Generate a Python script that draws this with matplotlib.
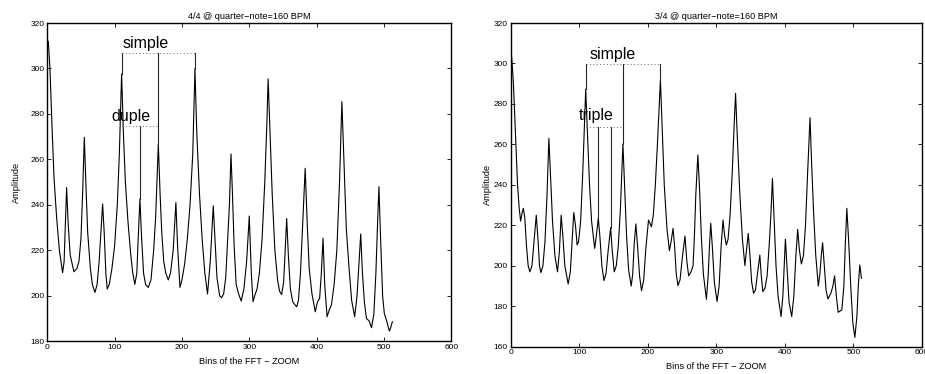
import numpy as np
import matplotlib
matplotlib.use("Agg")
import matplotlib.pyplot as plt

plt.rcParams['font.family'] = ['Liberation Sans', 'DejaVu Sans']

# 4/4 curve (bin, amplitude)
x44 = [0, 1.5, 4, 7, 10, 14, 18, 22.8, 25, 27, 28.7, 31, 34, 39.6, 44, 47, 50, 52.5, 55, 57.5,
       60, 64, 67, 70.8, 74, 77, 80, 82.2, 84.5, 87, 89, 92, 96, 100, 104, 107, 110.4, 113, 116, 120,
       124, 127, 130, 133, 135, 137.6, 140, 143, 146, 150, 154, 158, 161, 164.9, 167.5, 170, 173, 176, 179.7, 183,
       187, 191, 193.5, 197, 200, 204, 208, 212, 216, 219.3, 222, 226, 230, 234, 238, 242, 246.5, 249, 252, 256,
       259, 262, 265, 268, 270.5, 272.8, 275, 277.5, 280.5, 284, 288, 292, 296, 300, 303, 305.5, 308, 311.5, 315, 319,
       323, 326, 328, 331, 334, 338, 342, 345, 348, 351, 353, 355.5, 358, 361, 364.5, 368, 370.5, 373, 376, 379,
       383, 386, 389, 393, 398, 401, 404.5, 407, 409.5, 412, 415.5, 419, 422, 426, 430, 434, 437.5, 441, 444, 448,
       452, 456.5, 460, 463, 465.5, 468, 471, 474, 478, 481.5, 485, 488, 490.5, 492.5, 495, 498, 500.5, 504, 508, 510,
       512.5]
y44 = [309, 312, 300, 275, 252, 234, 220, 210.2, 215, 232, 247.6, 232, 218, 210.6, 212, 215, 225, 245, 269.7, 248,
       228, 212, 205, 201.5, 205, 215, 230, 240.4, 228, 210, 203, 205, 212, 222, 240, 262, 297.6, 272, 250, 232,
       218, 210, 205, 210, 225, 242.6, 226, 210, 205, 203.7, 207, 220, 235, 266.8, 245, 228, 215, 210, 207, 210,
       220, 241, 222, 203.7, 207, 214, 225, 240, 262, 299.9, 272, 245, 225, 210, 200.8, 215, 239.6, 225, 208, 200,
       199.2, 201, 208, 225, 240, 262.4, 245, 222, 205, 201, 197.7, 203, 215, 235.1, 210, 197.4, 200, 203, 210, 225,
       250, 275, 295.4, 270, 245, 220, 207, 202, 200.6, 206, 218, 234, 218, 203, 197.4, 196, 195.2, 198, 210, 230,
       256.1, 232, 212, 201, 193, 197, 199, 210, 225.3, 205, 190.8, 194, 196, 205, 220, 250, 285.4, 255, 230, 212.8,
       198, 190.8, 200, 215, 227.2, 210, 197, 190, 189, 186, 192, 210, 232, 248, 225, 200, 192.3, 189, 184.5, 186,
       188.6]

# 3/4 curve
x34 = [0, 1.5, 4, 7, 10, 12.5, 14.5, 16.5, 18.4, 20.5, 23, 25.5, 28, 31, 34, 37.3, 40, 42, 44, 47,
       50, 53, 55.7, 58, 61, 64.5, 68.3, 71, 73.6, 76, 79, 83.8, 87, 90, 92, 94.5, 96.9, 99, 102, 105,
       109.4, 112, 115, 118, 122.5, 125, 127.8, 130, 133, 136, 139, 142, 145.8, 148, 151, 154, 157, 160, 163.7, 166,
       169, 172, 175.8, 178, 180, 182.6, 185, 188, 190.8, 194, 197, 201, 203, 205.3, 208, 211, 214, 218.4, 221, 224,
       228, 231.5, 234, 236.8, 239, 241.5, 244, 247, 250, 254.2, 257, 259.6, 263, 266, 268, 270, 273, 275.5, 278, 281,
       285.5, 288, 290, 291.8, 294, 297, 301, 304, 307, 309.7, 312, 314.5, 317, 320, 323, 326, 328, 331, 334, 338,
       341.6, 344, 346.5, 349, 351.5, 354.2, 357, 360, 363.4, 365.5, 367.8, 371, 374, 377, 379.5, 381.8, 384, 387, 390, 394.4,
       397, 399, 400.7, 403, 406, 409.9, 413, 416, 418.6, 421, 424, 427, 430, 433, 436.6, 439, 442, 445, 448.7, 451,
       453, 455, 457.5, 460, 462.7, 467, 470, 472.4, 475, 477.7, 483, 486, 488, 490.3, 493, 496, 499, 502, 505, 507,
       509.2, 511.6]
y34 = [300, 303, 290, 265, 240, 228, 222.1, 226, 228.4, 224, 210, 200, 197, 200, 212, 225, 212, 200, 196.6, 200,
       212, 235, 263, 245, 222, 205, 197, 207, 225, 215, 200, 191, 197, 215, 226.3, 220, 210.3, 212, 222, 245,
       287.2, 265, 240, 222, 208.6, 215, 223.5, 215, 200, 192.7, 196, 207, 218.8, 208, 197, 200, 210, 228, 260.2, 240,
       215, 198, 190, 196, 210, 220.7, 210, 195, 187.7, 193, 208, 222.6, 221, 219.3, 225, 240, 260, 291.8, 268, 240,
       218, 207.5, 212, 218.5, 210, 196, 190.2, 193, 203, 214.7, 202, 195, 197, 200, 215, 235, 254.8, 238, 215, 196,
       183.4, 195, 210, 221, 210, 192, 182.3, 190, 210, 222.6, 215, 210.3, 213, 225, 245, 270, 285.2, 260, 237, 213,
       200.1, 208, 216, 205, 192, 186.4, 188, 196, 205.3, 195, 187.2, 189, 195, 210, 225, 243.2, 225, 200, 185, 174.9,
       185, 200, 213.2, 200, 182, 174.9, 185, 205, 218, 208, 200.9, 205, 220, 245, 273.2, 250, 225, 205, 190, 196,
       205, 211.4, 200, 188, 183.6, 186.4, 190, 195, 185, 177, 178.2, 190, 210, 228.4, 212, 190, 172, 164.6, 175, 190,
       200.4, 193.8]

# annotation peaks
simple44 = [110.4, 164.9, 219.3]
duple44 = [137.6]
simple34 = [109.4, 163.7, 218.4]
triple34 = [127.8, 145.8]
level_simple44, level_duple44 = 306.7, 274.7
level_simple34, level_triple34 = 299.7, 268.6

fig = plt.figure(figsize=(9.25, 3.74), dpi=100)
ax1 = fig.add_axes([0.0511, 0.0874, 0.4368, 0.8511])
ax2 = fig.add_axes([0.5521, 0.0730, 0.4447, 0.8655])


def style(ax, ylim, yt, title, ylpad):
    ax.set_xlim(0, 600)
    ax.set_ylim(*ylim)
    ax.set_xticks(range(0, 601, 100))
    ax.set_yticks(yt)
    ax.tick_params(direction='in', top=True, right=True, length=3, width=0.6, labelsize=6, pad=2)
    for s in ax.spines.values():
        s.set_linewidth(1.0)
    ax.set_title(title, fontsize=6.6, pad=3)
    ax.set_xlabel('Bins of the FFT \u2212 ZOOM', fontsize=6.6, labelpad=4)
    ax.set_ylabel('Amplitude', fontsize=6.6, labelpad=ylpad)


def marks(ax, xs, ys, peaks, level, lo, hi):
    for p in peaks:
        ax.plot([p, p], [np.interp(p, xs, ys), level], color='0.15', lw=0.8)
    ax.plot([lo, hi], [level, level], color='0.4', lw=0.7, ls=(0, (1, 2.5)))


ax1.plot(x44, y44, color='black', lw=0.8)
style(ax1, (180, 320), range(180, 321, 20), '4/4 @ quarter\u2212note=160 BPM', 7)
marks(ax1, x44, y44, simple44, level_simple44, simple44[0], simple44[-1])
marks(ax1, x44, y44, duple44, level_duple44, simple44[0], simple44[1])
ax1.text(112, 309, 'simple', fontsize=11.5, va='baseline')
ax1.text(94.5, 277, 'duple', fontsize=11.5, va='baseline')

ax2.plot(x34, y34, color='black', lw=0.8)
style(ax2, (160, 320), range(160, 321, 20), '3/4 @ quarter\u2212note=160 BPM', 1)
marks(ax2, x34, y34, simple34, level_simple34, simple34[0], simple34[-1])
marks(ax2, x34, y34, triple34, level_triple34, simple34[0], simple34[1])
ax2.text(115, 302, 'simple', fontsize=11.5, va='baseline')
ax2.text(99, 272, 'triple', fontsize=11.5, va='baseline')

fig.savefig('out.png', dpi=100)
